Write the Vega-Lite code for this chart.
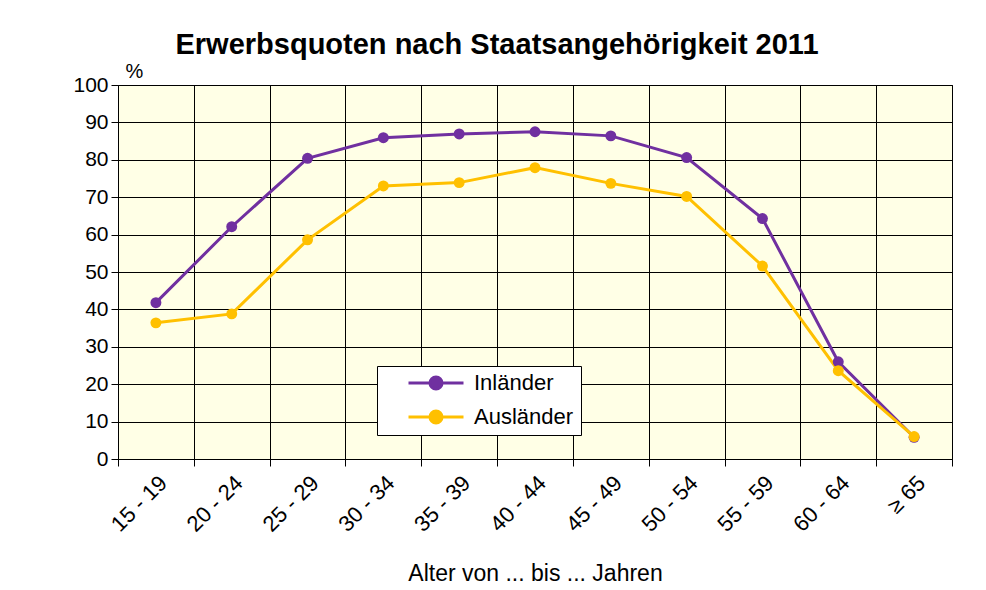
{
  "$schema": "https://vega.github.io/schema/vega-lite/v6.json",
  "width": 834,
  "height": 374,
  "autosize": {"type": "none"},
  "padding": {"left": 118, "top": 85, "right": 34, "bottom": 131},
  "background": "white",
  "config": {
    "font": "Liberation Sans",
    "view": {"fill": "#FFFFE6", "stroke": "#000000", "strokeWidth": 1}
  },
  "title": {
    "text": "Erwerbsquoten nach Staatsangehörigkeit 2011",
    "fontSize": 29,
    "fontWeight": "bold",
    "color": "#000000",
    "anchor": "middle",
    "frame": "group",
    "dx": -38,
    "dy": 5,
    "offset": 6
  },
  "data": {
    "values": [
      {"Alter": "15 - 19", "Reihe": "Inländer", "Quote": 41.8},
      {"Alter": "20 - 24", "Reihe": "Inländer", "Quote": 62.1},
      {"Alter": "25 - 29", "Reihe": "Inländer", "Quote": 80.4},
      {"Alter": "30 - 34", "Reihe": "Inländer", "Quote": 85.9},
      {"Alter": "35 - 39", "Reihe": "Inländer", "Quote": 86.9},
      {"Alter": "40 - 44", "Reihe": "Inländer", "Quote": 87.5},
      {"Alter": "45 - 49", "Reihe": "Inländer", "Quote": 86.4},
      {"Alter": "50 - 54", "Reihe": "Inländer", "Quote": 80.6},
      {"Alter": "55 - 59", "Reihe": "Inländer", "Quote": 64.3},
      {"Alter": "60 - 64", "Reihe": "Inländer", "Quote": 26.0},
      {"Alter": "≥ 65", "Reihe": "Inländer", "Quote": 5.8},
      {"Alter": "15 - 19", "Reihe": "Ausländer", "Quote": 36.4},
      {"Alter": "20 - 24", "Reihe": "Ausländer", "Quote": 38.8},
      {"Alter": "25 - 29", "Reihe": "Ausländer", "Quote": 58.6},
      {"Alter": "30 - 34", "Reihe": "Ausländer", "Quote": 73.0},
      {"Alter": "35 - 39", "Reihe": "Ausländer", "Quote": 73.9},
      {"Alter": "40 - 44", "Reihe": "Ausländer", "Quote": 77.9},
      {"Alter": "45 - 49", "Reihe": "Ausländer", "Quote": 73.7},
      {"Alter": "50 - 54", "Reihe": "Ausländer", "Quote": 70.2},
      {"Alter": "55 - 59", "Reihe": "Ausländer", "Quote": 51.6},
      {"Alter": "60 - 64", "Reihe": "Ausländer", "Quote": 23.6},
      {"Alter": "≥ 65", "Reihe": "Ausländer", "Quote": 6.0}
    ]
  },
  "encoding": {
    "x": {
      "field": "Alter",
      "type": "ordinal",
      "sort": ["15 - 19", "20 - 24", "25 - 29", "30 - 34", "35 - 39", "40 - 44", "45 - 49", "50 - 54", "55 - 59", "60 - 64", "≥ 65"],
      "scale": {"type": "band", "paddingInner": 0, "paddingOuter": 0},
      "axis": {
        "title": "Alter von ... bis ... Jahren",
        "titleFontSize": 23,
        "titleFontWeight": "normal",
        "titleColor": "#000000",
        "titleBaseline": "alphabetic",
        "titleY": 121,
        "labelAngle": -45,
        "labelFontSize": 22,
        "labelColor": "#000000",
        "labelPadding": 6,
        "tickBand": "extent",
        "tickColor": "#000000",
        "tickSize": 7,
        "grid": true,
        "gridColor": "#000000",
        "gridOpacity": 1,
        "domain": false
      }
    },
    "y": {
      "field": "Quote",
      "type": "quantitative",
      "scale": {"domain": [0, 100], "nice": false},
      "axis": {
        "title": "%",
        "titleAngle": 0,
        "titleFontSize": 20,
        "titleFontWeight": "normal",
        "titleColor": "#000000",
        "titleX": 16,
        "titleY": -8,
        "titleAlign": "center",
        "titleBaseline": "alphabetic",
        "values": [0, 10, 20, 30, 40, 50, 60, 70, 80, 90, 100],
        "labelFontSize": 21,
        "labelColor": "#000000",
        "labelPadding": 3,
        "tickColor": "#000000",
        "tickSize": 7,
        "grid": true,
        "gridColor": "#000000",
        "gridOpacity": 1,
        "domain": false
      }
    },
    "color": {
      "field": "Reihe",
      "type": "nominal",
      "sort": ["Inländer", "Ausländer"],
      "scale": {"domain": ["Inländer", "Ausländer"], "range": ["#7030A0", "#FFC000"]},
      "legend": {
        "title": null,
        "orient": "none",
        "legendX": 259,
        "legendY": 281,
        "fillColor": "#FFFFFF",
        "strokeColor": "#000000",
        "padding": 7,
        "symbolOffset": 23,
        "symbolType": "M-1,0H1M-0.22,0A0.22,0.22,0,1,1,0.22,0A0.22,0.22,0,1,1,-0.22,0Z",
        "symbolSize": 3025,
        "symbolStrokeWidth": 3,
        "clipHeight": 20,
        "labelFontSize": 22,
        "labelColor": "#000000",
        "labelOffset": 9,
        "rowPadding": 12,
        "encode": {
          "symbols": {"update": {"fill": {"scale": "color", "field": "value"}, "opacity": {"value": 1}}}
        }
      }
    }
  },
  "layer": [
    {"mark": {"type": "line", "strokeWidth": 3}},
    {"mark": {"type": "point", "filled": true, "opacity": 1, "size": 120}}
  ]
}
